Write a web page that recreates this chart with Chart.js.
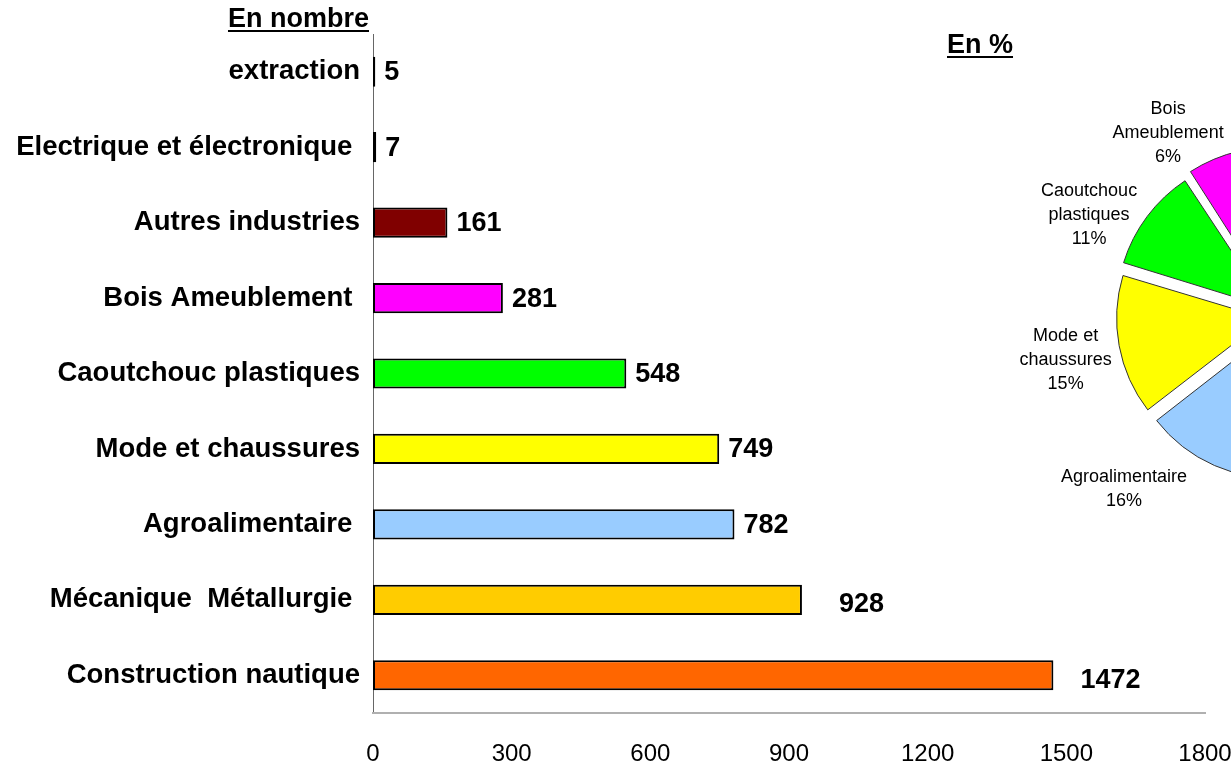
<!DOCTYPE html>
<html>
<head>
<meta charset="utf-8">
<script src="https://cdn.jsdelivr.net/npm/chart.js@4/dist/chart.umd.min.js"></script>
<style>
  html, body { margin: 0; padding: 0; background: #fff; overflow: hidden; }
  #wrap { position: relative; width: 1231px; height: 767px; overflow: hidden; background: #fff; }
  #bars { position: absolute; left: 0; top: 0; }
  #pie { position: absolute; left: 980px; top: 16px; }
  .ttl { position: absolute; font: bold 27px "Liberation Sans", Arial, sans-serif; color: #000; text-decoration: underline; text-decoration-thickness: 2px; text-underline-offset: 3px; white-space: nowrap; }
</style>
</head>
<body>
<div id="wrap">
  <canvas id="bars" width="1231" height="767"></canvas>
  <canvas id="pie" width="600" height="600"></canvas>
  <div class="ttl" style="right:862px; top:3px;">En nombre</div>
  <div class="ttl" style="left:947px; top:29px;">En %</div>
</div>
<script>
// ---- data ----
const categories = [
  "extraction",
  "Electrique et électronique ",
  "Autres industries",
  "Bois Ameublement ",
  "Caoutchouc plastiques",
  "Mode et chaussures",
  "Agroalimentaire ",
  "Mécanique  Métallurgie ",
  "Construction nautique"
];
const counts = [5, 7, 161, 281, 548, 749, 782, 928, 1472];
const barColors = ["#800000", "#800000", "#800000", "#FF00FF", "#00FF00", "#FFFF00", "#99CCFF", "#FFCC00", "#FF6600"];
const xTicks = [0, 300, 600, 900, 1200, 1500, 1800];

// pie (order as drawn clockwise from 12 o'clock)
const pieLabels = [
  ["Construction", "nautique"],
  ["Mécanique", "Métallurgie"],
  ["Agroalimentaire"],
  ["Mode et", "chaussures"],
  ["Caoutchouc", "plastiques"],
  ["Bois", "Ameublement"],
  ["Autres", "industries"],
  ["Electrique et", "électronique"],
  ["extraction"]
];
const pieValues = [1472, 928, 782, 749, 548, 281, 161, 7, 5];
const pieColors = ["#FF6600", "#FFCC00", "#99CCFF", "#FFFF00", "#00FF00", "#FF00FF", "#800000", "#800000", "#800000"];

// ---- label layout tweaks (style only) ----
const valueLabelShift = [[0,0],[0,0],[0,0],[0,0],[0,0],[0,0],[0,0],[28,4],[18,4]];
const pieLabelShift = [[0,0],[0,0],[19,12],[0,0],[-8,0],[-8,0],[0,0],[0,0],[0,0]]; // [deg, px]

const FONT = '"Liberation Sans", Arial, sans-serif';

const valueLabels = {
  id: 'valueLabels',
  afterDatasetsDraw(chart) {
    const ctx = chart.ctx;
    const meta = chart.getDatasetMeta(0);
    ctx.save();
    ctx.font = 'bold 27px ' + FONT;
    ctx.fillStyle = '#000';
    ctx.textAlign = 'left';
    ctx.textBaseline = 'middle';
    meta.data.forEach((el, i) => {
      const s = valueLabelShift[i];
      ctx.fillText(String(counts[i]), el.x + 9 + s[0], el.y + 1 + s[1]);
    });
    ctx.restore();
  }
};

new Chart(document.getElementById('bars'), {
  type: 'bar',
  data: {
    labels: categories,
    datasets: [{
      data: counts,
      backgroundColor: barColors,
      borderColor: '#000',
      borderWidth: 2,
      borderSkipped: false,
      barPercentage: 0.40,
      categoryPercentage: 1
    }]
  },
  options: {
    indexAxis: 'y',
    responsive: false,
    animation: false,
    events: [],
    devicePixelRatio: 1,
    layout: { padding: { left: 0, right: 0, top: 34, bottom: 0 } },
    plugins: { legend: { display: false }, tooltip: { enabled: false }, title: { display: false } },
    scales: {
      y: {
        afterFit(s) { s.width = 373; },
        grid: { display: false, drawTicks: false },
        border: { display: true, color: '#666', width: 1 },
        ticks: { color: '#000', padding: 13, font: { family: FONT, size: 27.5, weight: 'bold' } }
      },
      x: {
        min: 0, max: 1800,
        afterFit(s) { s.height = 54; s.paddingLeft = 0; s.paddingRight = 26; },
        afterBuildTicks(s) { s.ticks = xTicks.map(v => ({ value: v })); },
        grid: { display: false, drawTicks: false },
        border: { display: true, color: '#b0b0b0', width: 2 },
        ticks: { color: '#000', padding: 27, maxRotation: 0, callback: v => String(v), font: { family: FONT, size: 24 } }
      }
    }
  },
  plugins: [valueLabels]
});

const pieLabelPlugin = {
  id: 'pieLabels',
  afterDatasetsDraw(chart) {
    const ctx = chart.ctx;
    const meta = chart.getDatasetMeta(0);
    const total = pieValues.reduce((a, b) => a + b, 0);
    ctx.save();
    ctx.font = '18px ' + FONT;
    ctx.fillStyle = '#000';
    ctx.textAlign = 'center';
    ctx.textBaseline = 'middle';
    meta.data.forEach((arc, i) => {
      const pct = Math.round(pieValues[i] / total * 100);
      if (pct < 5) return;
      const sh = pieLabelShift[i];
      const mid = (arc.startAngle + arc.endAngle) / 2 + sh[0] * Math.PI / 180;
      const d = arc.outerRadius + 14 + 57 + sh[1];
      const cx = arc.x + Math.cos(mid) * d;
      const cy = arc.y + Math.sin(mid) * d + 4;
      const lines = pieLabels[i].concat([pct + '%']);
      const lh = 24;
      const y0 = cy - (lines.length - 1) * lh / 2;
      lines.forEach((t, k) => ctx.fillText(t, cx, y0 + k * lh));
    });
    ctx.restore();
  }
};

new Chart(document.getElementById('pie'), {
  type: 'pie',
  data: {
    labels: pieLabels.map(l => l.join(' ')),
    datasets: [{
      data: pieValues,
      backgroundColor: pieColors,
      borderColor: '#333',
      borderWidth: 1,
      offset: 56,
      hoverOffset: 0,
      radius: 147
    }]
  },
  options: {
    responsive: false,
    animation: false,
    events: [],
    devicePixelRatio: 1,
    rotation: 0,
    layout: { padding: 0 },
    plugins: { legend: { display: false }, tooltip: { enabled: false } }
  },
  plugins: [pieLabelPlugin]
});
</script>
</body>
</html>
